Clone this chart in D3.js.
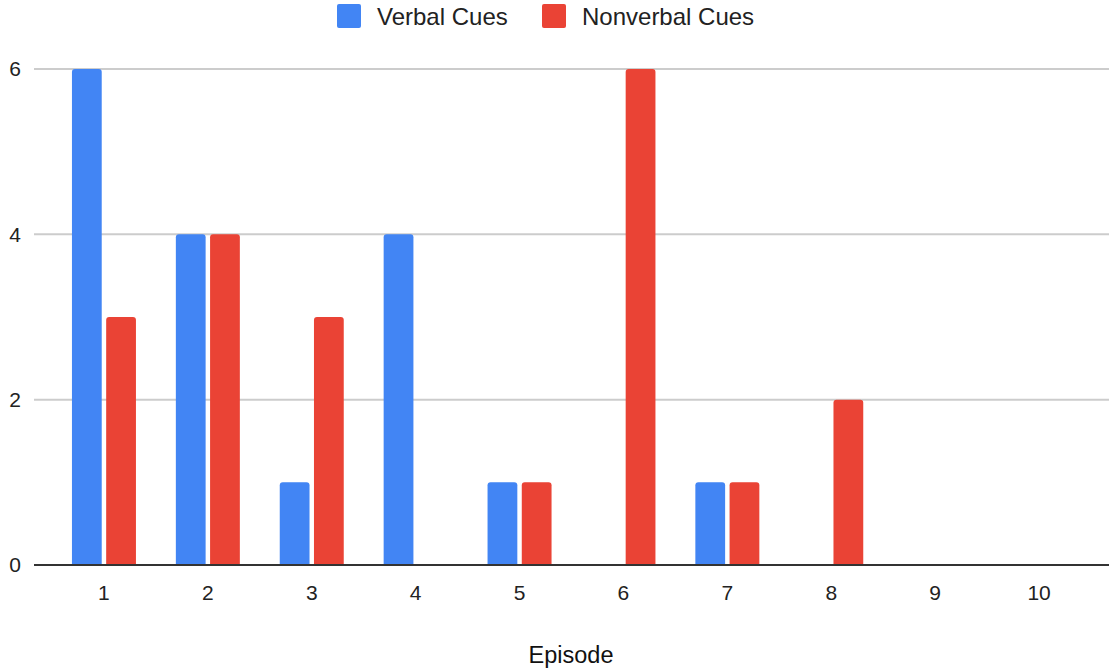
<!DOCTYPE html>
<html><head><meta charset="utf-8">
<script src="https://cdn.jsdelivr.net/npm/d3@7"></script>
<style>body{margin:0;background:#fff}svg{display:block;font-family:Arial,"Liberation Sans",sans-serif}</style>
</head><body><svg id="c" width="1111" height="669"></svg>
<script>
const episodes = ["1","2","3","4","5","6","7","8","9","10"];
const seriesNames = ["Verbal Cues","Nonverbal Cues"];
const verbal = [6,4,1,4,1,0,1,0,0,0];
const nonverbal = [3,4,3,0,1,6,1,2,0,0];
const yTicks = [0,2,4,6];
const colors = ["#4285F4","#EA4335"];

const svg = d3.select("#c");
const x = d3.scaleBand().domain(episodes).range([52,1091]).padding(0);
const x1 = d3.scaleBand().domain(seriesNames).range([0,64]).paddingInner(0.13);
const y = d3.scaleLinear().domain([0,6]).range([565,69]);
const gridL = 34, gridR = 1109;

// gridlines
svg.append("g").selectAll("line").data(yTicks.filter(t=>t!==0)).join("line")
  .attr("x1",gridL).attr("x2",gridR).attr("y1",d=>y(d)).attr("y2",d=>y(d))
  .attr("stroke","#cccccc").attr("stroke-width",2);

// y labels
const yAxis = d3.axisLeft(y).tickValues(yTicks).tickFormat(d3.format("d")).tickSize(0).tickPadding(0);
const gy = svg.append("g").attr("transform","translate(21,0)").call(yAxis);
gy.select(".domain").remove();
gy.selectAll("text").attr("font-size",21).attr("fill","#222").attr("font-family","Arial,'Liberation Sans',sans-serif");

// bars
const data = episodes.map((e,i)=>({e, vals:[verbal[i],nonverbal[i]]}));
const grp = svg.append("g").selectAll("g").data(data).join("g")
  .attr("transform",d=>`translate(${x(d.e)+x.bandwidth()/2-32},0)`);
const r = 3;
grp.selectAll("path").data(d=>d.vals.map((v,k)=>({v,k})).filter(o=>o.v>0)).join("path")
  .attr("fill",o=>colors[o.k])
  .attr("d",o=>{
    const x0 = x1(seriesNames[o.k]), w = x1.bandwidth(), yt = y(o.v), yb = y(0);
    return `M${x0},${yb}V${yt+r}Q${x0},${yt} ${x0+r},${yt}H${x0+w-r}Q${x0+w},${yt} ${x0+w},${yt+r}V${yb}Z`;
  });

// baseline
svg.append("line").attr("x1",gridL).attr("x2",gridR).attr("y1",y(0)).attr("y2",y(0))
  .attr("stroke","#333").attr("stroke-width",2);

// x labels
const xAxis = d3.axisBottom(x).tickSize(0).tickPadding(0);
const gx = svg.append("g").attr("transform","translate(0,585)").call(xAxis);
gx.select(".domain").remove();
gx.selectAll("text").attr("font-size",21).attr("fill","#222").attr("dy","0.71em").attr("y",0)
  .attr("font-family","Arial,'Liberation Sans',sans-serif");

// axis title
svg.append("text").attr("x",571).attr("y",663).attr("text-anchor","middle")
  .attr("font-size",23.5).attr("fill","#111").text("Episode");

// legend
const legX = [337,542];
const lg = svg.append("g").selectAll("g").data(seriesNames).join("g")
  .attr("transform",(d,i)=>`translate(${legX[i]},4)`);
lg.append("rect").attr("width",24).attr("height",24).attr("rx",2).attr("fill",(d,i)=>colors[i]);
lg.append("text").attr("x",40).attr("y",20.5).attr("font-size",24).attr("fill","#222").text(d=>d);
</script></body></html>
